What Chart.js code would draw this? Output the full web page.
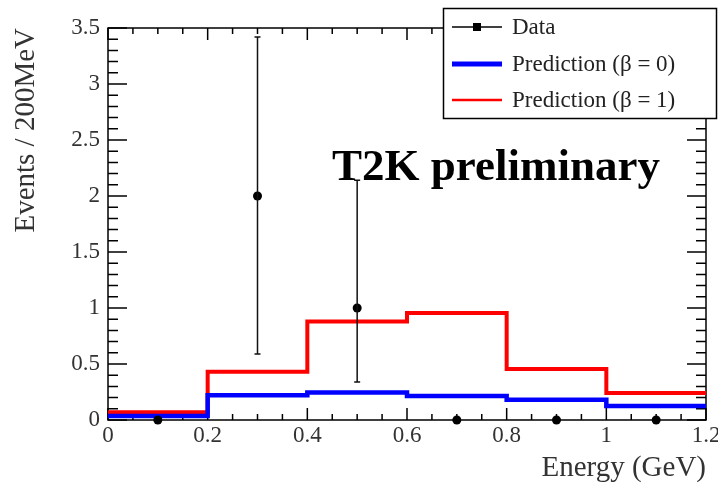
<!DOCTYPE html>
<html>
<head>
<meta charset="utf-8">
<script src="https://cdn.jsdelivr.net/npm/chart.js@4.4.1/dist/chart.umd.min.js"></script>
<style>
  html, body { margin: 0; padding: 0; background: #fff; }
  #wrap { width: 718px; height: 486px; }
</style>
</head>
<body>
<div id="wrap"><canvas id="histChart" width="718" height="486"></canvas></div>
<script>
// histogram bins (GeV) and contents per 200 MeV
const binEdges = [0, 0.2, 0.4, 0.6, 0.8, 1.0, 1.2];
const predBeta0 = [0.035, 0.22, 0.245, 0.215, 0.18, 0.125];
const predBeta1 = [0.07, 0.43, 0.88, 0.955, 0.455, 0.24];

// data points with error bars
const dataX = [0.1, 0.3, 0.5, 0.7, 0.9, 1.1];
const dataY = [0, 2, 1, 0, 0, 0];
const dataLow = [0, 0.59, 0.34, 0, 0, 0];
const dataHigh = [0, 3.42, 2.14, 0, 0, 0];

const xTicks = [0, 0.2, 0.4, 0.6, 0.8, 1, 1.2];
const yTicks = [0, 0.5, 1, 1.5, 2, 2.5, 3, 3.5];
const seriesLabels = ['Data', 'Prediction (\u03B2 = 0)', 'Prediction (\u03B2 = 1)'];

const serif = '"Liberation Serif", "Times New Roman", serif';

function stepPoints(vals) {
    return binEdges.map((e, i) => ({ x: e, y: vals[Math.min(i, vals.length - 1)] }));
}

// ROOT style frame with inner ticks on all four sides
const frameTicks = {
    id: 'frameTicks',
    beforeDatasetsDraw(chart) {
        const { ctx, chartArea: a, scales: { x, y } } = chart;
        ctx.save();
        ctx.strokeStyle = '#000';
        ctx.lineWidth = 1.5;
        ctx.strokeRect(a.left, a.top, a.right - a.left, a.bottom - a.top);
        ctx.beginPath();
        for (let k = 0; k <= 24; k++) {
            const px = x.getPixelForValue(k * 0.05);
            const len = k % 4 === 0 ? 12 : 6;
            ctx.moveTo(px, a.bottom); ctx.lineTo(px, a.bottom - len);
            ctx.moveTo(px, a.top); ctx.lineTo(px, a.top + len);
        }
        for (let k = 0; k <= 35; k++) {
            const py = y.getPixelForValue(k * 0.1);
            const len = k % 5 === 0 ? 19 : 10;
            ctx.moveTo(a.left, py); ctx.lineTo(a.left + len, py);
            ctx.moveTo(a.right, py); ctx.lineTo(a.right - len, py);
        }
        ctx.stroke();
        ctx.restore();
    }
};

const errorBars = {
    id: 'errorBars',
    afterDatasetsDraw(chart) {
        const { ctx, scales: { x, y } } = chart;
        ctx.save();
        ctx.strokeStyle = '#111';
        ctx.lineWidth = 1.5;
        ctx.beginPath();
        dataX.forEach((v, i) => {
            if (dataHigh[i] <= dataLow[i]) return;
            const px = x.getPixelForValue(v);
            const y1 = y.getPixelForValue(dataLow[i]);
            const y2 = y.getPixelForValue(dataHigh[i]);
            ctx.moveTo(px, y1); ctx.lineTo(px, y2);
            ctx.moveTo(px - 3, y1); ctx.lineTo(px + 3, y1);
            ctx.moveTo(px - 3, y2); ctx.lineTo(px + 3, y2);
        });
        ctx.stroke();
        ctx.restore();
    }
};

const boxLegend = {
    id: 'boxLegend',
    afterDraw(chart) {
        const ctx = chart.ctx;
        const ds = chart.data.datasets;
        ctx.save();
        ctx.fillStyle = '#fff';
        ctx.fillRect(443, 8, 274, 110);
        ctx.strokeStyle = '#000';
        ctx.lineWidth = 1.5;
        ctx.strokeRect(443.5, 8.5, 273, 110);

        const rows = [27, 64, 100];
        const widths = [1.5, 5, 2.5];
        ds.forEach((d, i) => {
            const ry = rows[i];
            ctx.strokeStyle = d.borderColor;
            ctx.lineWidth = widths[i];
            ctx.beginPath();
            ctx.moveTo(452, ry); ctx.lineTo(502, ry);
            ctx.stroke();
            if (i === 0) {
                ctx.fillStyle = '#000';
                ctx.fillRect(473, ry - 4, 8, 8);
            }
            ctx.fillStyle = '#222';
            ctx.font = '23px ' + serif;
            ctx.textBaseline = 'middle';
            ctx.textAlign = 'left';
            ctx.fillText(d.label, 512, ry + 1);
        });

        ctx.fillStyle = '#000';
        ctx.font = 'bold 45px ' + serif;
        ctx.textBaseline = 'alphabetic';
        ctx.fillText('T2K preliminary', 332, 180);
        ctx.restore();
    }
};

const ctx = document.getElementById('histChart').getContext('2d');

new Chart(ctx, {
    type: 'line',
    data: {
        datasets: [
            {
                type: 'scatter',
                label: seriesLabels[0],
                data: dataX.map((v, i) => ({ x: v, y: dataY[i] })),
                pointRadius: 4.5,
                pointHoverRadius: 4.5,
                backgroundColor: '#000',
                borderColor: '#000',
                borderWidth: 0,
                showLine: false,
                clip: false
            },
            {
                label: seriesLabels[1],
                data: stepPoints(predBeta0),
                stepped: 'before',
                borderColor: '#0000ff',
                borderWidth: 4.5,
                pointRadius: 0,
                fill: false
            },
            {
                label: seriesLabels[2],
                data: stepPoints(predBeta1),
                stepped: 'before',
                borderColor: '#ff0000',
                borderWidth: 4,
                pointRadius: 0,
                fill: false
            }
        ]
    },
    options: {
        responsive: false,
        animation: false,
        layout: { padding: { top: 28, right: 12, left: 0, bottom: 0 } },
        plugins: {
            legend: { display: false },
            tooltip: { enabled: false }
        },
        scales: {
            x: {
                type: 'linear',
                min: 0,
                max: 1.2,
                afterBuildTicks: s => { s.ticks = xTicks.map(v => ({ value: v })); },
                afterFit: s => { s.height = 66; s.paddingLeft = 0; s.paddingRight = 0; },
                grid: { display: false, drawTicks: false },
                border: { display: false },
                ticks: {
                    font: { family: serif, size: 23 },
                    color: '#333',
                    padding: 2,
                    maxRotation: 0,
                    autoSkip: false,
                    callback: v => String(v)
                },
                title: {
                    display: true,
                    text: 'Energy (GeV)',
                    align: 'end',
                    font: { family: serif, size: 29 },
                    color: '#333',
                    padding: { top: 0, bottom: 0 }
                }
            },
            y: {
                min: 0,
                max: 3.5,
                afterBuildTicks: s => { s.ticks = yTicks.map(v => ({ value: v })); },
                afterFit: s => { s.width = 108; },
                grid: { display: false, drawTicks: false },
                border: { display: false },
                ticks: {
                    font: { family: serif, size: 23 },
                    color: '#333',
                    padding: 8,
                    callback: v => String(v)
                },
                title: {
                    display: true,
                    text: 'Events / 200MeV',
                    align: 'end',
                    font: { family: serif, size: 29 },
                    color: '#333',
                    padding: { top: 9, bottom: 0 }
                }
            }
        }
    },
    plugins: [frameTicks, errorBars, boxLegend]
});
</script>
</body>
</html>
